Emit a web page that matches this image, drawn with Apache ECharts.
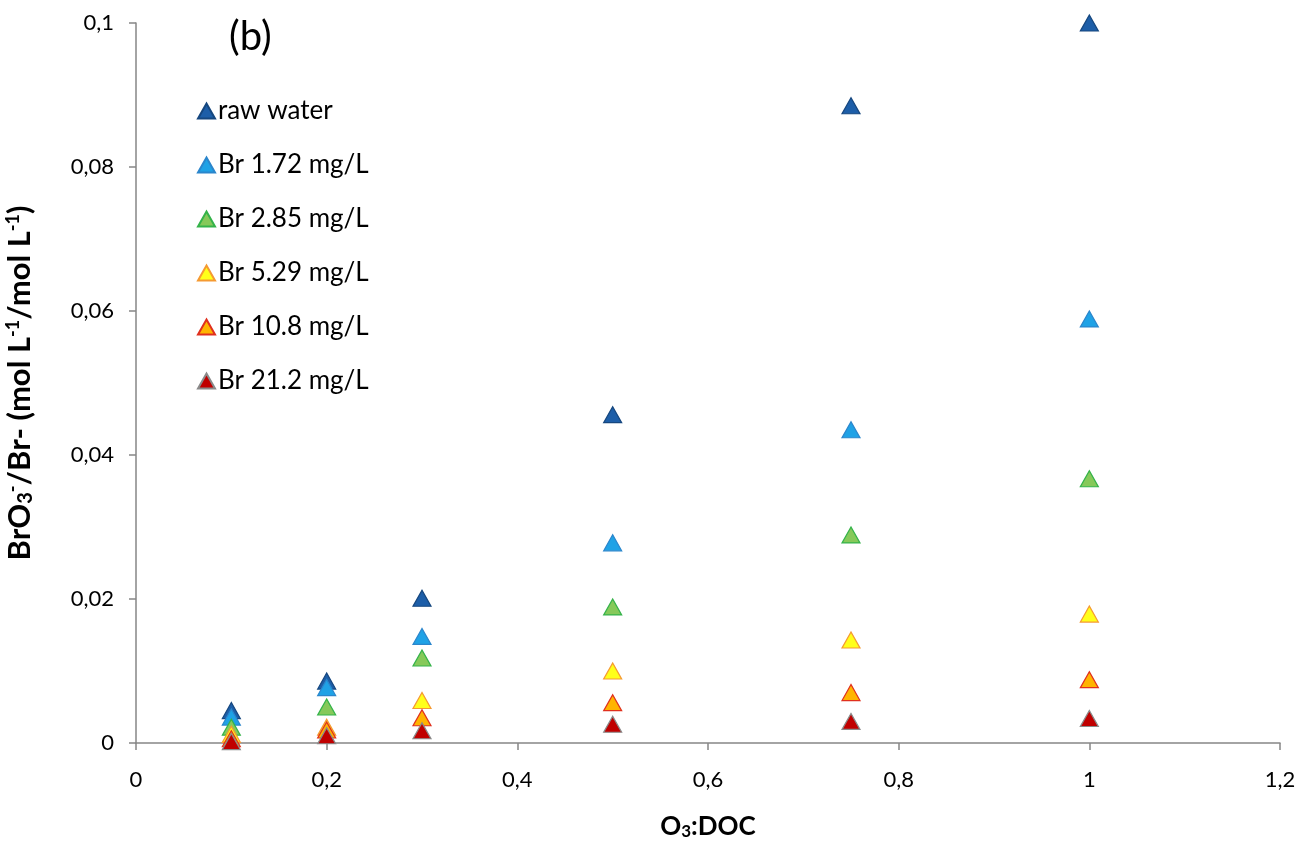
<!DOCTYPE html>
<html>
<head>
<meta charset="utf-8">
<script src="https://cdn.jsdelivr.net/npm/echarts@6/dist/echarts.min.js"></script>
<style>
  html, body { margin: 0; padding: 0; background: #fff; }
  #chart { width: 1302px; height: 843px; }
</style>
</head>
<body>
<div id="chart"></div>
<script>
// O3:DOC dose ratios
const doseRatio = [0.1, 0.2, 0.3, 0.5, 0.75, 1.0];

// BrO3-/Br- molar yield per bromide level
const rawWater = [0.0045, 0.0086, 0.0201, 0.0456, 0.0885, 0.1000];
const br172   = [0.0036, 0.0077, 0.0148, 0.0278, 0.0435, 0.0589];
const br285   = [0.0022, 0.0050, 0.0118, 0.0189, 0.0289, 0.0367];
const br529   = [0.0012, 0.0022, 0.0059, 0.0100, 0.0143, 0.0179];
const br108   = [0.0006, 0.0018, 0.0035, 0.0056, 0.0070, 0.0088];
const br212   = [0.0002, 0.0010, 0.0017, 0.0026, 0.0030, 0.0034];

const seriesNames = ['raw water', 'Br 1.72 mg/L', 'Br 2.85 mg/L', 'Br 5.29 mg/L', 'Br 10.8 mg/L', 'Br 21.2 mg/L'];
const seriesValues = [rawWater, br172, br285, br529, br108, br212];
const fills   = ['#1d5ea8', '#1fa2e6', '#86c95a', '#ffff1a', '#ffb400', '#c00000'];
const borders = ['#16477f', '#2b86cc', '#35b34a', '#f59a32', '#e0301e', '#8a8a8a'];

const xTicks = { min: 0, max: 1.2, interval: 0.2 };
const yTicks = { min: 0, max: 0.1, interval: 0.02 };

const fontFamily = 'Lato, "Open Sans", sans-serif';
const fmt = v => String(Math.round(v * 1000) / 1000).replace('.', ',');

const chart = echarts.init(document.getElementById('chart'));

const series = seriesNames.map((name, i) => ({
  name: name,
  type: 'scatter',
  symbol: 'triangle',
  symbolSize: [18, 16],
  data: doseRatio.map((x, j) => [x, seriesValues[i][j]]),
  itemStyle: { color: fills[i], borderColor: borders[i], borderWidth: 1.2, opacity: 1 },
  emphasis: { disabled: true }
}));

chart.setOption({
  animation: false,
  backgroundColor: '#ffffff',
  textStyle: { fontFamily: fontFamily },
  grid: { left: 136, right: 22, top: 23, bottom: 100, containLabel: false, outerBoundsMode: 'none' },
  graphic: [{
    type: 'text',
    left: 229,
    top: 17,
    style: { text: '(b)', fontSize: 40, fontFamily: fontFamily, fill: '#000' }
  }],
  legend: {
    orient: 'vertical',
    left: 192,
    top: 93,
    itemGap: 28,
    itemWidth: 17,
    itemHeight: 15,
    icon: 'triangle',
    textStyle: { fontSize: 26, color: '#000', fontFamily: fontFamily, padding: [0, 0, 0, -2] },
    data: seriesNames
  },
  xAxis: {
    type: 'value',
    min: xTicks.min, max: xTicks.max, interval: xTicks.interval,
    name: '{t|O}{s|3}{t|:DOC}',
    nameLocation: 'middle',
    nameGap: 70,
    nameTextStyle: {
      rich: {
        t: { fontSize: 26, fontWeight: 'bold', color: '#000', fontFamily: fontFamily },
        s: { fontSize: 17, fontWeight: 'bold', color: '#000', fontFamily: fontFamily, verticalAlign: 'bottom', padding: [10, 0, 0, 0] }
      }
    },
    axisLine: { lineStyle: { color: '#868686', width: 1.5 } },
    axisTick: { show: true, inside: false, length: 7, lineStyle: { color: '#868686', width: 1.5 } },
    axisLabel: { formatter: fmt, fontSize: 22, color: '#000', margin: 26 },
    splitLine: { show: false }
  },
  yAxis: {
    type: 'value',
    min: yTicks.min, max: yTicks.max, interval: yTicks.interval,
    name: '{t|BrO}{s|3}{p|-}{t|/Br- (mol L}{p|-1}{t|/mol L}{p|-1}{t|)}',
    nameLocation: 'middle',
    nameRotate: 90,
    nameGap: 100,
    nameTextStyle: {
      rich: {
        t: { fontSize: 31, fontWeight: 'bold', color: '#000', fontFamily: fontFamily },
        s: { fontSize: 20, fontWeight: 'bold', color: '#000', fontFamily: fontFamily, verticalAlign: 'bottom', padding: [12, 0, 0, 0] },
        p: { fontSize: 18, fontWeight: 'bold', color: '#000', fontFamily: fontFamily, verticalAlign: 'top', padding: [0, 0, 11, 0] }
      }
    },
    axisLine: { show: true, lineStyle: { color: '#868686', width: 1.5 } },
    axisTick: { show: true, inside: false, length: 7, lineStyle: { color: '#868686', width: 1.5 } },
    axisLabel: { formatter: fmt, fontSize: 22, color: '#000', margin: 22 },
    splitLine: { show: false }
  },
  series: series
});
</script>
</body>
</html>
